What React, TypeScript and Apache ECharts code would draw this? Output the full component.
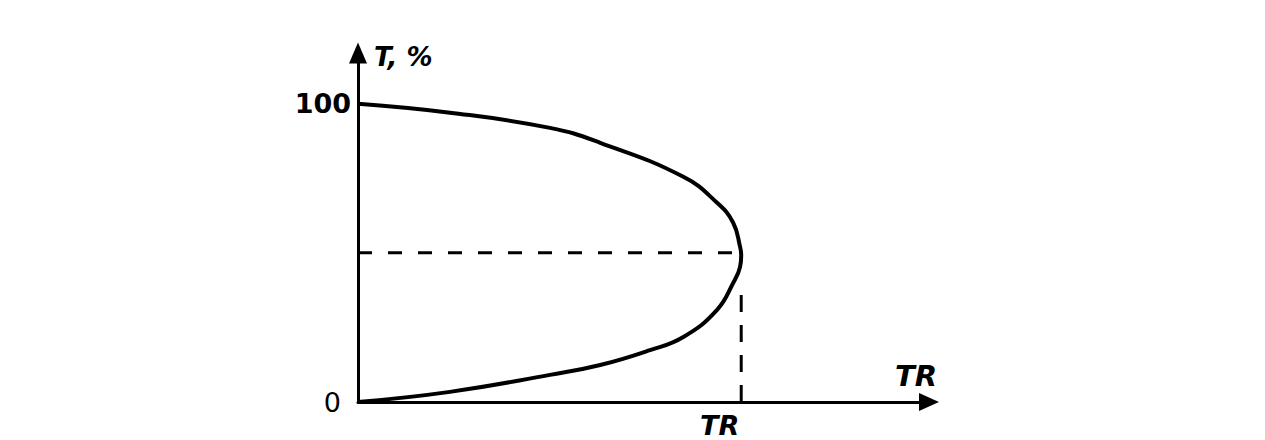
import React, { useEffect, useRef } from "react";
import * as echarts from "echarts";

// Laffer curve: tax revenue (TR) vs tax rate (T, %), traced in order of rising T
const curveTR = [0, 24.0, 50.1, 63.2, 76.2, 84.9, 93.7, 97.9, 99.7, 100, 99.7, 97.9, 93.7, 84.9, 63.2, 50.1, 24.0, 0];
const curveT = [0, 3.4, 9.1, 12.4, 17.4, 21.8, 30.9, 39.9, 45.3, 49.3, 52.0, 60.1, 66.8, 75.5, 86.9, 91.9, 97.0, 100];

// dashed guides
const guideHTR = [0, 100];
const guideHT = [50, 50];
const guideVTR = [100, 100];
const guideVT = [0, 38];

const yTicks = [0, 100];
const yAxisName = "T, %";
const xAxisName = "TR";
const xMaxLabel = "TR";

const FONT = "'DejaVu Sans', 'Liberation Sans', Arial, sans-serif";

export default function App() {
  const ref = useRef<HTMLDivElement>(null);
  useEffect(() => {
    if (!ref.current) return;
    const chart = echarts.init(ref.current, undefined, { renderer: "svg" });
    const pair = (xs: number[], ys: number[]) => xs.map((x, i) => [x, ys[i]]);
    chart.setOption({
      animation: false,
      backgroundColor: "#ffffff",
      grid: { left: 358, right: 336, top: 53, bottom: 38 },
      xAxis: {
        type: "value",
        min: 0,
        max: 149,
        interval: 100,
        axisLine: {
          show: true,
          lineStyle: { color: "#000", width: 3 },
          symbol: ["none", "triangle"],
          symbolSize: [18, 20],
        },
        axisTick: { show: false },
        axisLabel: { show: false },
        splitLine: { show: false },
      },
      yAxis: {
        type: "value",
        min: 0,
        max: 117,
        interval: 100,
        axisLine: {
          show: true,
          lineStyle: { color: "#000", width: 3 },
          symbol: ["none", "triangle"],
          symbolSize: [18, 21],
        },
        axisTick: { show: false },
        splitLine: { show: false },
        axisLabel: {
          showMaxLabel: false,
          margin: 7,
          formatter: (v: number) =>
            yTicks.includes(v) ? (v === 0 ? "{z|" + v + "}" : "{h|" + v + "}") : "",
          rich: {
            z: { fontFamily: FONT, fontSize: 27, color: "#000", padding: [0, 10, 0, 0] },
            h: { fontFamily: FONT, fontSize: 27, fontWeight: "bold", color: "#000" },
          },
        },
      },
      series: [
        {
          type: "line",
          data: pair(curveTR, curveT),
          smooth: 0.45,
          showSymbol: false,
          lineStyle: { color: "#000", width: 4 },
          z: 3,
        },
        {
          type: "line",
          data: pair(guideHTR, guideHT),
          showSymbol: false,
          lineStyle: { color: "#000", width: 3, type: [14, 16] },
        },
        {
          type: "line",
          data: pair(guideVTR, guideVT),
          showSymbol: false,
          lineStyle: { color: "#000", width: 3, type: [17, 13] },
        },
      ],
      graphic: [
        {
          type: "text",
          left: 374,
          top: 44,
          style: { text: yAxisName, font: "italic bold 26px " + FONT, fill: "#000" },
        },
        {
          type: "text",
          right: 328,
          top: 361,
          style: { text: xAxisName, font: "italic bold 29px " + FONT, fill: "#000" },
        },
        {
          type: "text",
          left: 700,
          top: 412,
          style: { text: xMaxLabel, font: "italic bold 27px " + FONT, lineHeight: 27, fill: "#000" },
        },
      ],
    });
    return () => chart.dispose();
  }, []);
  return (
    <div
      ref={ref}
      style={{ position: "fixed", left: 0, top: 0, width: 1265, height: 440, background: "#fff" }}
    />
  );
}
